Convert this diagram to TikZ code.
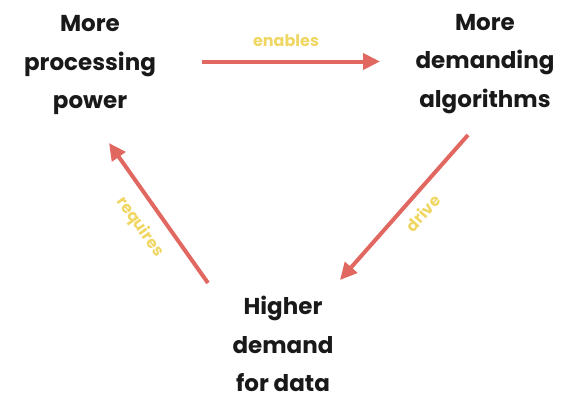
\documentclass[tikz,border=0pt]{standalone}
\usepackage{fontspec}
\setmainfont{Poppins}
\usetikzlibrary{arrows.meta}

\definecolor{cyclered}{RGB}{225,104,96}
\definecolor{cycleyellow}{RGB}{240,214,98}

\begin{document}
\begin{tikzpicture}[x=1pt,y=-1pt,
  stage/.style={align=center,inner sep=0pt,text=black!90,
    font=\fontsize{23}{38.5}\selectfont\bfseries},
  link/.style={cyclered,line width=4pt,-{Triangle[length=17pt,width=16pt]}},
  verb/.style={text=cycleyellow,inner sep=0pt,
    font=\fontsize{16}{20}\selectfont\bfseries}]
  \useasboundingbox (0,0) rectangle (581,413);

  % the three stages of the cycle
  \node[stage] (power) at (90,65)  {More\\processing\\power};
  \node[stage] (algo)  at (485,64) {More\\demanding\\algorithms};
  \node[stage] (data)  at (283,344) {Higher\\demand\\for data};

  % arrows between the stages
  \draw[link] ([shift={(112pt,3.5pt)}]power.center) -- ([shift={(-105pt,2.5pt)}]algo.center);
  \draw[link] ([shift={(-17pt,-71pt)}]algo.center) -- ([shift={(57pt,64pt)}]data.center);
  \draw[link] ([shift={(-75pt,61pt)}]data.center) -- ([shift={(19pt,-78pt)}]power.center);

  % labels on the arrows
  \node[verb] (enables) at (286,41) {enables};
  \node[verb,rotate=48.6] (drive) at (423,213) {drive};
  \node[verb,rotate=-54.7] (requires) at (140,227) {requires};
\end{tikzpicture}
\end{document}
